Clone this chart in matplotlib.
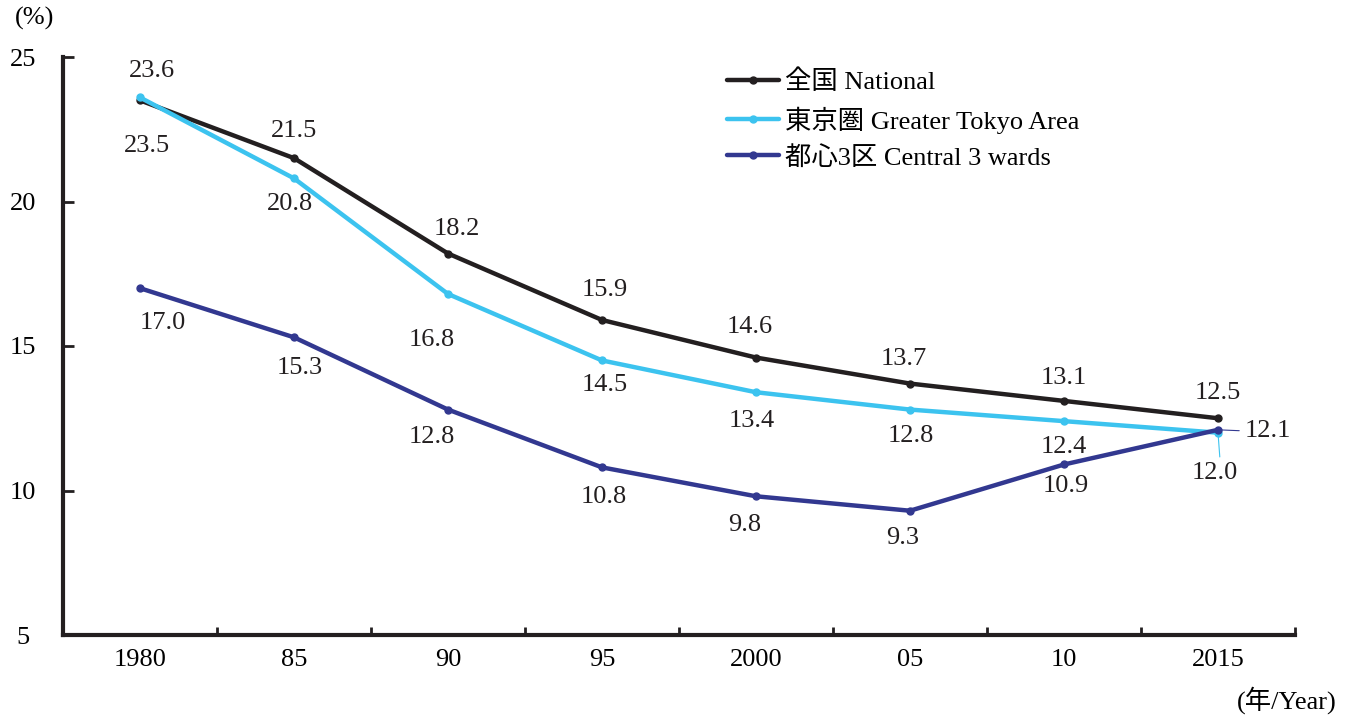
import matplotlib
matplotlib.use("Agg")
import matplotlib.pyplot as plt

plt.rcParams['font.family'] = ['Liberation Serif', 'Noto Sans CJK JP']

years = ["1980", "85", "90", "95", "2000", "05", "10", "2015"]
national = [23.5, 21.5, 18.2, 15.9, 14.6, 13.7, 13.1, 12.5]
tokyo = [23.6, 20.8, 16.8, 14.5, 13.4, 12.8, 12.4, 12.0]
central = [17.0, 15.3, 12.8, 10.8, 9.8, 9.3, 10.9, 12.1]

names = ["全国 National", "東京圏 Greater Tokyo Area", "都心3区 Central 3 wards"]
colors = ["#231f20", "#3cc3ef", "#323890"]

# label offsets in pixels (dx, dy) relative to each point
off_nat = [(7, -46), (0, 27), (9, 25), (3, 30), (-6, 31), (-6, 25), (0, 23), (0, 25)]
off_tok = [(12, 26), (-4, -26), (-16, -46), (3, -25), (-4, -29), (1, -26), (0, -26), (-3, -40)]
off_cen = [(23, -35), (6, -31), (-16, -27), (2, -30), (-11, -29), (-7, -27), (2, -22), (50, -1)]

fs = 19

fig = plt.figure(figsize=(13.54, 7.16), dpi=100)
ax = fig.add_axes([63 / 1354, 1 - 635 / 716, (1295 - 63) / 1354, (635 - 57) / 716])

x = list(range(len(years)))
series = [national, tokyo, central]
offsets = [off_nat, off_tok, off_cen]
for vals, col, name in zip(series, colors, names):
    ax.plot(x, vals, color=col, lw=3.2, marker='o', ms=5, label=name,
            solid_capstyle='round', zorder=3)

for vals, offs in zip(series, offsets):
    for i, v in enumerate(vals):
        dx, dy = offs[i]
        ax.annotate(f"{v:.1f}", (i, v), xytext=(dx, dy), textcoords='offset pixels',
                    ha='center', va='center', fontsize=fs, color='#231f20')

# leader lines for the crowded 2015 labels
ax.annotate("", (7, central[7]), xytext=(24, -1), textcoords='offset pixels',
            arrowprops=dict(arrowstyle='-', color=colors[2], lw=0.8))
ax.annotate("", (7, tokyo[7]), xytext=(2, -27), textcoords='offset pixels',
            arrowprops=dict(arrowstyle='-', color=colors[1], lw=0.8))

ax.set_xlim(-0.5, 7.5)
ax.set_ylim(5, 25)
ax.set_yticks([5, 10, 15, 20, 25])
ax.set_xticks([i + 0.5 for i in range(-1, 8)], minor=False)
ax.set_xticklabels([])
ax.set_xticks(x, minor=True)
ax.set_xticklabels(years, minor=True)

ax.tick_params(axis='x', which='major', direction='in', length=6, width=2, color='#231f20')
ax.tick_params(axis='x', which='minor', length=0, pad=10, labelsize=fs)
ax.tick_params(axis='y', direction='in', length=8, width=2, color='#231f20', pad=29, labelsize=fs)
for lab in ax.get_yticklabels():
    lab.set_horizontalalignment('center')

for s in ['top', 'right']:
    ax.spines[s].set_visible(False)
for s in ['left', 'bottom']:
    ax.spines[s].set_linewidth(3)
    ax.spines[s].set_color('#231f20')

leg = ax.legend(loc='upper left', bbox_to_anchor=(0.530, 0.996), frameon=False,
                fontsize=fs, handlelength=2.0, handletextpad=0.2, labelspacing=0.45,
                borderaxespad=0.0)

fig.text(35 / 1354, 1 - 18 / 716, "(%)", ha='center', va='center', fontsize=fs)
fig.text(1287 / 1354, 1 - 700 / 716, "(年/Year)", ha='center', va='center', fontsize=fs)

fig.savefig("out.png", dpi=100)
